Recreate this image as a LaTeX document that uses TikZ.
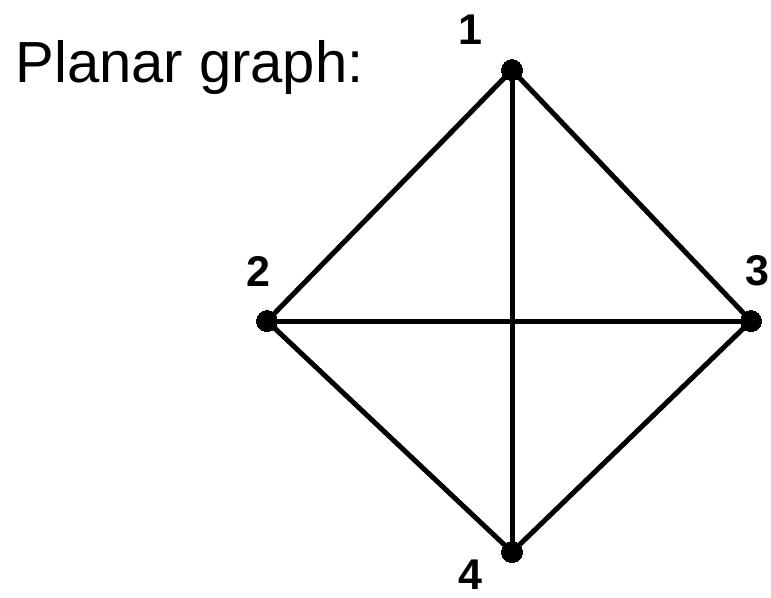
\documentclass[tikz,border=0pt]{standalone}
\usepackage{fontspec}
\setmainfont{Liberation Sans}
\usetikzlibrary{positioning}

\begin{document}
\begin{tikzpicture}[x=1pt, y=-1pt, line width=5pt,
	   v/.style={draw, circle, fill=black, inner sep=0pt, minimum size=21pt, line width=0pt},
	   lbl/.style={inner sep=0pt, font=\fontsize{43}{48}\selectfont\bfseries}]
	  \useasboundingbox (0,0) rectangle (771,597);
	  \node[anchor=base west, inner sep=0pt, font=\fontsize{58}{64}\selectfont] (title) at (13,82) {Planar graph:};
	  \node[v] (v1) at (512,70) {};
	  \node[v] (v2) at (267,321) {};
	  \node[v] (v3) at (751,321) {};
	  \node[v] (v4) at (512,552) {};
	  \node[lbl] (l1) at (470,30) {1};
	  \node[lbl] (l2) at (258,271) {2};
	  \node[lbl] (l3) at (757,271) {3};
	  \node[lbl] (l4) at (470,575) {4};
	  \draw (v1.center)--(v2.center)--(v4.center)--(v3.center)--cycle;
	  \draw (v1.center)--(v4.center); \draw (v2.center)--(v3.center);
	\end{tikzpicture}
\end{document}
